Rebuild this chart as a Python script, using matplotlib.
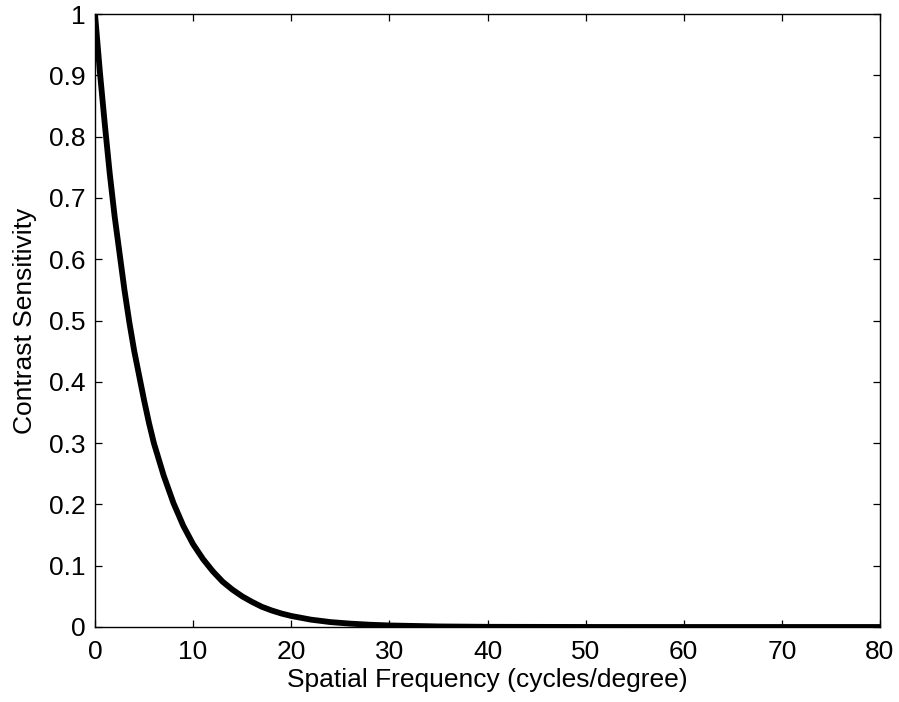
import matplotlib
matplotlib.use('Agg')
import matplotlib.pyplot as plt

plt.rcParams['font.family'] = ['Liberation Sans', 'DejaVu Sans']

# values
freq = [0, 0.5, 1, 1.5, 2, 2.5, 3, 3.5, 4, 4.5, 5, 5.5, 6, 7, 8, 9, 10,
        11, 12, 13, 14, 15, 16, 17, 18, 19, 20, 22, 24, 26, 28, 30,
        35, 40, 50, 60, 70, 80]
sens = [1.0, 0.905, 0.82, 0.74, 0.67, 0.61, 0.55, 0.497, 0.45, 0.41, 0.37,
        0.333, 0.30, 0.247, 0.202, 0.165, 0.135, 0.111, 0.091, 0.074, 0.061,
        0.050, 0.041, 0.033, 0.027, 0.022, 0.018, 0.012, 0.008, 0.0055,
        0.0037, 0.0025, 0.0009, 0.0003, 0.00005, 0.0, 0.0, 0.0]

xticks = [0, 10, 20, 30, 40, 50, 60, 70, 80]
yticks = [0, 0.1, 0.2, 0.3, 0.4, 0.5, 0.6, 0.7, 0.8, 0.9, 1]
yticklabels = ['0', '0.1', '0.2', '0.3', '0.4', '0.5', '0.6', '0.7', '0.8', '0.9', '1']

fig = plt.figure(figsize=(8.99, 7.02), dpi=100)
ax = fig.add_axes([95/899, 1 - 627/702, (880-95)/899, (627-14)/702])

ax.plot(freq, sens, color='black', linewidth=4.2, solid_capstyle='butt')

ax.set_xlim(0, 80)
ax.set_ylim(0, 1)
ax.set_xticks(xticks)
ax.set_yticks(yticks)
ax.set_yticklabels(yticklabels)
ax.tick_params(direction='in', length=5, width=0.9, top=True, right=True,
               labelsize=19)
ax.tick_params(axis='x', pad=9.5)
ax.tick_params(axis='y', pad=6.5)
for s in ax.spines.values():
    s.set_linewidth(1.0)

ax.set_xlabel('Spatial Frequency (cycles/degree)', fontsize=19, labelpad=3)
ax.set_ylabel('Contrast Sensitivity', fontsize=19, labelpad=9)

fig.savefig('out.png', dpi=100)
